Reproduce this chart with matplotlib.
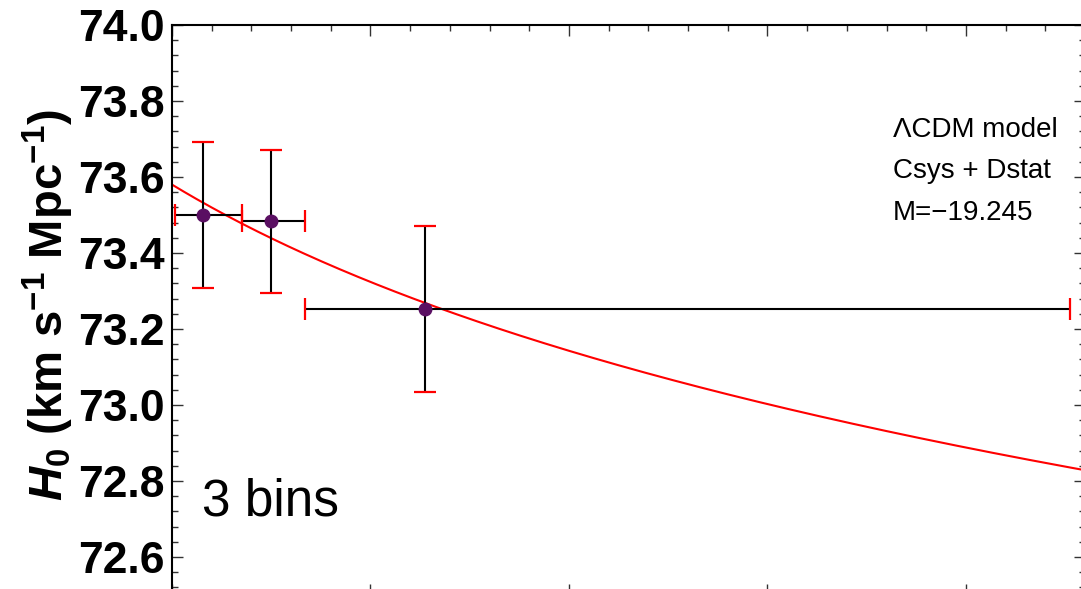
import matplotlib
matplotlib.use("Agg")
import matplotlib.pyplot as plt
import numpy as np
from matplotlib.ticker import MultipleLocator

# binned H0 values (3 bins)
z_bin = [0.078, 0.249, 0.637]
z_lo = [0.008, 0.176, 0.335]
z_hi = [0.176, 0.335, 2.262]
h0_bin = [73.50, 73.484, 73.253]
h0_err = [0.192, 0.188, 0.218]

# fitted curve H0(z) = H0_tilde / (1+z)^alpha
h0_tilde = 73.58
alpha = 0.0086

plt.rcParams['font.family'] = ['Liberation Sans', 'DejaVu Sans']
plt.rcParams['mathtext.fontset'] = 'custom'
plt.rcParams['mathtext.rm'] = 'Liberation Sans:bold'
plt.rcParams['mathtext.it'] = 'Liberation Sans:bold:italic'
plt.rcParams['mathtext.bf'] = 'Liberation Sans:bold'

W, H = 1081, 589
fig = plt.figure(figsize=(W / 100, H / 100), dpi=100)
# axes frame runs a little past the picture edges (cropped original)
x0, x1 = 172, 1085
y0, y1 = 25, 595
ax = fig.add_axes([x0 / W, 1 - y1 / H, (x1 - x0) / W, (y1 - y0) / H])

zz = np.linspace(0, 2.3, 300)
ax.plot(zz, h0_tilde / (1 + zz) ** alpha, color='red', lw=1.5, zorder=2)

xerr = [np.array(z_bin) - np.array(z_lo), np.array(z_hi) - np.array(z_bin)]
eb = ax.errorbar(z_bin, h0_bin, yerr=h0_err, xerr=xerr, fmt='o', color='#5a0f62',
                 ms=9, ecolor='black', elinewidth=1.5, capsize=8, capthick=1.6, zorder=3)
for cap in eb[1]:
    cap.set_color('red')
    cap.set_markeredgecolor('red')

ax.set_xlim(0, 2.3)
ax.xaxis.set_major_locator(MultipleLocator(0.5))
ax.xaxis.set_minor_locator(MultipleLocator(0.1))
ax.yaxis.set_minor_locator(MultipleLocator(0.04))
yticks = np.arange(72.6, 74.01, 0.2)
ax.set_yticks(yticks)
ax.set_yticklabels([f'{v:.1f}' for v in yticks], fontweight='bold', fontsize=32)
ax.set_ylim(72.5, 74.0)
ax.tick_params(which='both', direction='in', top=True, right=True, labelbottom=False,
               color='#333333')
ax.tick_params(which='major', length=8, width=1)
ax.tick_params(which='minor', length=4, width=1)
ax.tick_params(axis='y', which='major', pad=5)
for s in ax.spines.values():
    s.set_linewidth(1.5)

fig.text(48 / W, 1 - 305 / H, r'$H_0$ (km s$^{-1}$ Mpc$^{-1}$)', rotation=90,
         ha='center', va='center', fontsize=34, fontweight='bold')

ax.text(202 / W, 1 - 515 / H, '3 bins', transform=fig.transFigure, fontsize=37,
        ha='left', va='baseline')
notes = ['ΛCDM model', 'Csys + Dstat', 'M=\u221219.245']
for i, t in enumerate(notes):
    ax.text(893 / W, 1 - (137 + 41.5 * i) / H, t, transform=fig.transFigure,
            fontsize=20, ha='left', va='baseline')

fig.savefig('out.png', dpi=100)
